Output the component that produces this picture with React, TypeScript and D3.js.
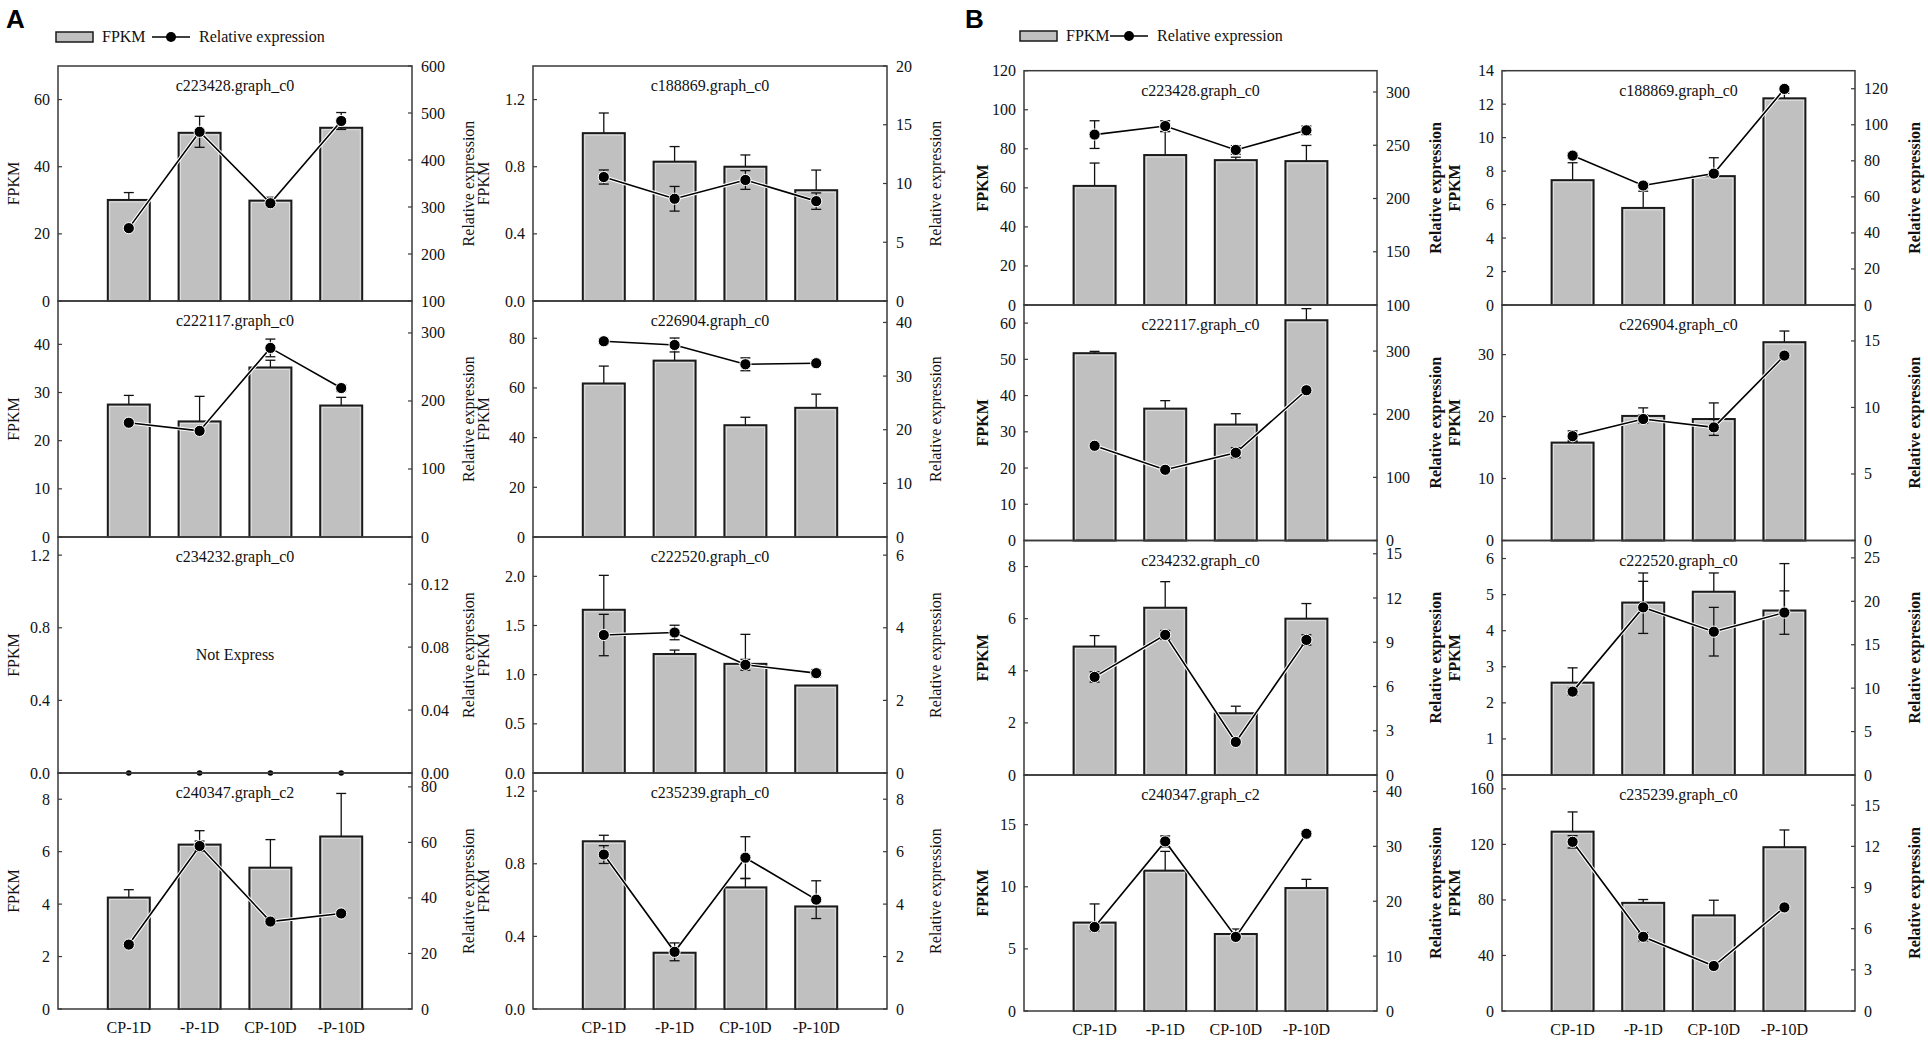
import React from "react";
import * as d3 from "d3";

// ---------- DATA ----------
const categories = ["CP-1D", "-P-1D", "CP-10D", "-P-10D"];

// panel order: A (left,right) x 4 rows, then B (left,right) x 4 rows
const geneNames = [
  "c223428.graph_c0", "c188869.graph_c0", "c222117.graph_c0", "c226904.graph_c0",
  "c234232.graph_c0", "c222520.graph_c0", "c240347.graph_c2", "c235239.graph_c0",
  "c223428.graph_c0", "c188869.graph_c0", "c222117.graph_c0", "c226904.graph_c0",
  "c234232.graph_c0", "c222520.graph_c0", "c240347.graph_c2", "c235239.graph_c0",
];

const notExpressed = [false, false, false, false, true, false, false, false,
  false, false, false, false, false, false, false, false];

const fpkmMeans = [
  [30.1, 50.1, 29.9, 51.6],
  [1.0, 0.83, 0.8, 0.66],
  [27.5, 24, 35.2, 27.3],
  [61.8, 71, 45, 52],
  [0, 0, 0, 0],
  [1.66, 1.21, 1.11, 0.89],
  [4.25, 6.27, 5.39, 6.58],
  [0.924, 0.31, 0.67, 0.565],
  [61, 76.8, 74.2, 73.7],
  [7.46, 5.8, 7.7, 12.35],
  [51.7, 36.4, 32, 60.8],
  [15.8, 20.1, 19.6, 32],
  [4.93, 6.42, 2.37, 6.0],
  [2.56, 4.78, 5.08, 4.56],
  [7.12, 11.3, 6.2, 9.9],
  [129.2, 77.9, 68.9, 118],
];

const fpkmErrors = [
  [2.2, 0, 1.0, 0],
  [0.12, 0.09, 0.07, 0.12],
  [1.9, 5.2, 1.5, 1.7],
  [7, 6.5, 3.2, 5.5],
  [0, 0, 0, 0],
  [0.35, 0.04, 0.3, 0],
  [0.3, 0.53, 1.07, 1.64],
  [0.033, 0, 0.05, 0],
  [11.7, 12, 1.5, 8],
  [1.04, 1.0, 1.1, 0.3],
  [0.5, 2.2, 3, 3.2],
  [0.4, 1.3, 2.6, 1.8],
  [0.42, 1.0, 0.27, 0.58],
  [0.41, 0.82, 0.52, 1.3],
  [1.5, 1.55, 0.4, 0.7],
  [14.2, 2.4, 10.9, 12.4],
];

const relMeans = [
  [255, 460, 308, 483],
  [10.55, 8.7, 10.3, 8.5],
  [168, 156, 278, 219],
  [36.5, 35.8, 32.2, 32.4],
  [0, 0, 0, 0],
  [3.8, 3.87, 2.98, 2.75],
  [23.2, 58.7, 31.5, 34.4],
  [5.89, 2.18, 5.77, 4.17],
  [260, 268, 245.6, 264],
  [82.9, 66.3, 72.9, 119.9],
  [150, 112, 139, 238],
  [7.84, 9.13, 8.5, 13.9],
  [6.65, 9.5, 2.24, 9.16],
  [9.6, 19.3, 16.5, 18.7],
  [15.3, 30.9, 13.5, 32.3],
  [12.33, 5.41, 3.28, 7.55],
];

const relErrors = [
  [0, 33, 4, 18],
  [0.6, 1.05, 0.8, 0.7],
  [0, 0, 13, 5],
  [0.5, 1.3, 1.2, 0.3],
  [0, 0, 0, 0],
  [0.57, 0.2, 0.15, 0.1],
  [1, 1.8, 1, 1],
  [0.34, 0.34, 0.8, 0.72],
  [13, 5, 4, 4],
  [1.5, 1.5, 1.5, 1],
  [3, 3, 8, 3],
  [0.4, 0.3, 0.6, 0.2],
  [0.35, 0.3, 0, 0.35],
  [0.4, 3, 2.8, 2.5],
  [0.7, 1, 0.5, 0.4],
  [0.45, 0.3, 0, 0],
];

const leftDomains: [number, number][] = [
  [0, 70], [0, 1.4], [0, 49], [0, 95], [0, 1.3], [0, 2.4], [0, 9], [0, 1.3],
  [0, 120], [0, 14], [0, 65], [0, 38], [0, 9], [0, 6.5], [0, 19], [0, 170],
];
const leftTicks = [
  [0, 20, 40, 60], [0, 0.4, 0.8, 1.2], [0, 10, 20, 30, 40], [0, 20, 40, 60, 80],
  [0, 0.4, 0.8, 1.2], [0, 0.5, 1.0, 1.5, 2.0], [0, 2, 4, 6, 8], [0, 0.4, 0.8, 1.2],
  [0, 20, 40, 60, 80, 100, 120], [0, 2, 4, 6, 8, 10, 12, 14], [0, 10, 20, 30, 40, 50, 60], [0, 10, 20, 30],
  [0, 2, 4, 6, 8], [0, 1, 2, 3, 4, 5, 6], [0, 5, 10, 15], [0, 40, 80, 120, 160],
];
const leftDecimals = [0, 1, 0, 0, 1, 1, 0, 1, 0, 0, 0, 0, 0, 0, 0, 0];

const rightDomains: [number, number][] = [
  [100, 600], [0, 20], [0, 347], [0, 44], [0, 0.15], [0, 6.5], [0, 85], [0, 9],
  [100, 320], [0, 130], [0, 373], [0, 17.7], [0, 15.9], [0, 27], [0, 43], [0, 17.2],
];
const rightTicks = [
  [100, 200, 300, 400, 500, 600], [0, 5, 10, 15, 20], [0, 100, 200, 300], [0, 10, 20, 30, 40],
  [0, 0.04, 0.08, 0.12], [0, 2, 4, 6], [0, 20, 40, 60, 80], [0, 2, 4, 6, 8],
  [100, 150, 200, 250, 300], [0, 20, 40, 60, 80, 100, 120], [0, 100, 200, 300], [0, 5, 10, 15],
  [0, 3, 6, 9, 12, 15], [0, 5, 10, 15, 20, 25], [0, 10, 20, 30, 40], [0, 3, 6, 9, 12, 15],
];
const rightDecimals = [0, 0, 0, 0, 2, 0, 0, 0, 0, 0, 0, 0, 0, 0, 0, 0];

// ---------- LAYOUT ----------
const W = 1928;
const H = 1043;
const SERIF = "'Liberation Serif', 'Times New Roman', serif";
const SANS = "'Liberation Sans', Arial, sans-serif";
const AXIS = "#3a3a3a";

const colX = [
  [[58, 412], [533, 887]],
  [[1024, 1377], [1502, 1855]],
];
const rowY = [
  [66, 301, 537, 773, 1009],
  [70.7, 305, 540.5, 775, 1011],
];
const leftTitleOff = [[45, 50], [42, 48]];
const rightTitleOff = [[56, 48], [58, 59]];
const BAR_W = 42;

function Panel({ i }: { i: number }) {
  const g = i < 8 ? 0 : 1;
  const j = i % 8;
  const row = Math.floor(j / 2);
  const col = j % 2;
  const [x0, x1] = colX[g][col];
  const y0 = rowY[g][row];
  const y1 = rowY[g][row + 1];
  const x = d3.scalePoint<string>().domain(categories).range([x0, x1]).padding(1);
  const yL = d3.scaleLinear().domain(leftDomains[i]).range([y1, y0]);
  const yR = d3.scaleLinear().domain(rightDomains[i]).range([y1, y0]);
  const fL = d3.format(`.${leftDecimals[i]}f`);
  const fR = d3.format(`.${rightDecimals[i]}f`);
  const fp = fpkmMeans[i];
  const fe = fpkmErrors[i];
  const rm = relMeans[i];
  const re = relErrors[i];
  const ne = notExpressed[i];
  const line = d3
    .line<number>()
    .x((_, k) => x(categories[k]) as number)
    .y((d) => yR(d));
  const cy = (y0 + y1) / 2;
  const titleWeight = g === 1 ? "bold" : "normal";
  const cap = 5;

  return (
    <g>
      {/* bars */}
      {fp.map((v, k) => {
        if (v <= 0) return null;
        const cx = x(categories[k]) as number;
        const top = yL(v);
        return (
          <g key={"b" + k}>
            {fe[k] > 0 && (
              <g stroke="#111" strokeWidth={1.3}>
                <line x1={cx} x2={cx} y1={top} y2={yL(v + fe[k])} />
                <line x1={cx - cap} x2={cx + cap} y1={yL(v + fe[k])} y2={yL(v + fe[k])} />
              </g>
            )}
            <rect x={cx - BAR_W / 2} y={top} width={BAR_W} height={y1 - top} fill="#c0c0c0" stroke="#1a1a1a" strokeWidth={2} />
            <rect x={cx - BAR_W / 2 + 2} y={top + 2} width={BAR_W - 4} height={Math.max(0, y1 - top - 2)} fill="none" stroke="#e4e4e4" strokeWidth={0.8} />
          </g>
        );
      })}
      {/* line */}
      {!ne && (
        <>
          <path d={line(rm) || ""} fill="none" stroke="#fff" strokeWidth={3.6} />
          <path d={line(rm) || ""} fill="none" stroke="#000" strokeWidth={1.6} />
        </>
      )}
      {rm.map((v, k) => {
        const cx = x(categories[k]) as number;
        const e = re[k];
        return (
          <g key={"d" + k}>
            {e > 0 && (
              <g stroke="#111" strokeWidth={1.3}>
                <line x1={cx} x2={cx} y1={yR(v - e)} y2={yR(v + e)} />
                <line x1={cx - cap} x2={cx + cap} y1={yR(v + e)} y2={yR(v + e)} />
                <line x1={cx - cap} x2={cx + cap} y1={yR(v - e)} y2={yR(v - e)} />
              </g>
            )}
            <circle cx={cx} cy={yR(v)} r={ne ? 2.8 : 5.6} fill="#000" stroke="#fff" strokeWidth={ne ? 0 : 1} />
          </g>
        );
      })}
      {/* frame */}
      <rect x={x0} y={y0} width={x1 - x0} height={y1 - y0} fill="none" stroke={AXIS} strokeWidth={1.5} />
      {/* left ticks */}
      {leftTicks[i].map((t) => (
        <g key={"lt" + t}>
          <line x1={x0} x2={x0 + 4} y1={yL(t)} y2={yL(t)} stroke={AXIS} strokeWidth={1.2} />
          <text x={x0 - 8} y={yL(t)} textAnchor="end" dominantBaseline="central" fontSize={16} fontFamily={SERIF} fill="#111">
            {fL(t)}
          </text>
        </g>
      ))}
      {/* right ticks */}
      {rightTicks[i].map((t) => (
        <g key={"rt" + t}>
          <line x1={x1 - 4} x2={x1} y1={yR(t)} y2={yR(t)} stroke={AXIS} strokeWidth={1.2} />
          <text x={x1 + 9} y={yR(t)} textAnchor="start" dominantBaseline="central" fontSize={16} fontFamily={SERIF} fill="#111">
            {fR(t)}
          </text>
        </g>
      ))}
      {/* axis titles */}
      <text
        transform={`translate(${x0 - leftTitleOff[g][col]},${cy}) rotate(-90)`}
        textAnchor="middle"
        dominantBaseline="central"
        fontSize={16}
        fontWeight={titleWeight}
        fontFamily={SERIF}
        fill="#111"
      >
        FPKM
      </text>
      <text
        transform={`translate(${x1 + rightTitleOff[g][col]},${cy}) rotate(-90)`}
        textAnchor="middle"
        dominantBaseline="central"
        fontSize={16}
        fontWeight={titleWeight}
        fontFamily={SERIF}
        fill="#111"
      >
        Relative expression
      </text>
      {/* gene title */}
      <text x={(x0 + x1) / 2} y={y0 + 25} textAnchor="middle" fontSize={16} fontFamily={SERIF} fill="#111">
        {geneNames[i]}
      </text>
      {ne && (
        <text x={(x0 + x1) / 2} y={cy + 5} textAnchor="middle" fontSize={16} fontFamily={SERIF} fill="#111">
          Not Express
        </text>
      )}
      {/* category labels on bottom row */}
      {row === 3 &&
        categories.map((c) => (
          <text key={"c" + c} x={x(c) as number} y={y1 + 24} textAnchor="middle" fontSize={16} fontFamily={SERIF} fill="#111">
            {c}
          </text>
        ))}
    </g>
  );
}

function Legend({ bx, by, dx }: { bx: number; by: number; dx: number }) {
  return (
    <g fontFamily={SERIF} fontSize={16} fill="#111">
      <rect x={bx} y={by} width={37} height={10} fill="#c0c0c0" stroke="#1a1a1a" strokeWidth={1.5} />
      <text x={bx + 46} y={by + 10}>FPKM</text>
      <line x1={bx + 96 + dx} x2={bx + 134 + dx} y1={by + 5} y2={by + 5} stroke="#000" strokeWidth={1.6} />
      <circle cx={bx + 115 + dx} cy={by + 5} r={5} fill="#000" />
      <text x={bx + 143 + dx} y={by + 10}>Relative expression</text>
    </g>
  );
}

export default function App() {
  const idx = d3.range(16);
  return (
    <svg
      width={W}
      height={H}
      viewBox={`0 0 ${W} ${H}`}
      style={{ position: "absolute", left: 0, top: 0, background: "#fff" }}
    >
      <rect x={0} y={0} width={W} height={H} fill="#fff" />
      <text x={6} y={28} fontFamily={SANS} fontWeight="bold" fontSize={26} fill="#000">A</text>
      <text x={965} y={28} fontFamily={SANS} fontWeight="bold" fontSize={26} fill="#000">B</text>
      <Legend bx={56} by={32} dx={0} />
      <Legend bx={1020} by={31} dx={-6} />
      {idx.map((i) => (
        <Panel key={i} i={i} />
      ))}
    </svg>
  );
}
